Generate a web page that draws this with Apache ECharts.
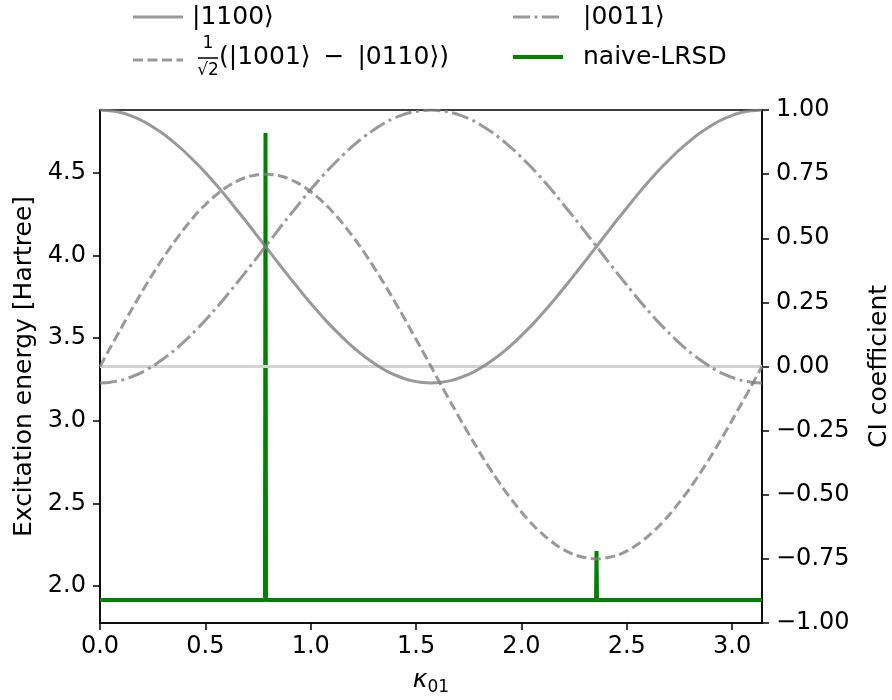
<!DOCTYPE html>
<html>
<head>
<meta charset="utf-8">
<script src="https://cdn.jsdelivr.net/npm/echarts@6/dist/echarts.min.js"></script>
<style>
  html, body { margin: 0; background: #fff; }
  #chart { width: 892px; height: 700px; }
</style>
</head>
<body>
<div id="chart"></div>
<script>
// kappa_01 grid (0 .. pi)
const kappa = [0, 0.0491, 0.0982, 0.1473, 0.1963, 0.2454, 0.2945, 0.3436, 0.3927, 0.4418, 0.4909,
  0.5400, 0.5890, 0.6381, 0.6872, 0.7363, 0.7854, 0.8345, 0.8836, 0.9327, 0.9817, 1.0308,
  1.0799, 1.1290, 1.1781, 1.2272, 1.2763, 1.3254, 1.3744, 1.4235, 1.4726, 1.5217, 1.5708,
  1.6199, 1.6690, 1.7181, 1.7671, 1.8162, 1.8653, 1.9144, 1.9635, 2.0126, 2.0617, 2.1108,
  2.1598, 2.2089, 2.2580, 2.3071, 2.3562, 2.4053, 2.4544, 2.5035, 2.5525, 2.6016, 2.6507,
  2.6998, 2.7489, 2.7980, 2.8471, 2.8962, 2.9452, 2.9943, 3.0434, 3.0925, 3.1416];

// CI coefficients (right axis)
const c1100 = [1.000, 0.997, 0.990, 0.977, 0.960, 0.937, 0.910, 0.879, 0.844, 0.805, 0.764,
  0.719, 0.672, 0.622, 0.572, 0.520, 0.468, 0.416, 0.364, 0.314, 0.264, 0.217,
  0.172, 0.131, 0.092, 0.057, 0.026, -0.001, -0.024, -0.041, -0.054, -0.061, -0.064,
  -0.061, -0.054, -0.041, -0.024, -0.001, 0.026, 0.057, 0.092, 0.131, 0.172, 0.217,
  0.264, 0.314, 0.364, 0.416, 0.468, 0.520, 0.572, 0.622, 0.672, 0.719, 0.764,
  0.805, 0.844, 0.879, 0.910, 0.937, 0.960, 0.977, 0.990, 0.997, 1.000];
const c0011 = [-0.064, -0.061, -0.054, -0.041, -0.024, -0.001, 0.026, 0.057, 0.092, 0.131, 0.172,
  0.217, 0.264, 0.314, 0.364, 0.416, 0.468, 0.520, 0.572, 0.622, 0.672, 0.719,
  0.764, 0.805, 0.844, 0.879, 0.910, 0.937, 0.960, 0.977, 0.990, 0.997, 1.000,
  0.997, 0.990, 0.977, 0.960, 0.937, 0.910, 0.879, 0.844, 0.805, 0.764, 0.719,
  0.672, 0.622, 0.572, 0.520, 0.468, 0.416, 0.364, 0.314, 0.264, 0.217, 0.172,
  0.131, 0.092, 0.057, 0.026, -0.001, -0.024, -0.041, -0.054, -0.061, -0.064];
const cSinglet = [0, 0.074, 0.146, 0.218, 0.287, 0.354, 0.417, 0.476, 0.530, 0.580, 0.624,
  0.661, 0.693, 0.718, 0.736, 0.746, 0.750, 0.746, 0.736, 0.718, 0.693, 0.661,
  0.624, 0.580, 0.530, 0.476, 0.417, 0.354, 0.287, 0.218, 0.146, 0.074, 0,
  -0.074, -0.146, -0.218, -0.287, -0.354, -0.417, -0.476, -0.530, -0.580, -0.624, -0.661,
  -0.693, -0.718, -0.736, -0.746, -0.750, -0.746, -0.736, -0.718, -0.693, -0.661, -0.624,
  -0.580, -0.530, -0.476, -0.417, -0.354, -0.287, -0.218, -0.146, -0.074, 0];

// naive-LRSD excitation energy (left axis)
const naiveKappa = [0, 0.7830, 0.7854, 0.7878, 2.3540, 2.3562, 2.3585, 3.1416];
const naiveEnergy = [1.915, 1.915, 4.742, 1.915, 1.915, 2.212, 1.915, 1.915];

const xTicks = [0, 0.5, 1.0, 1.5, 2.0, 2.5, 3.0];
const energyTicks = [2.0, 2.5, 3.0, 3.5, 4.0, 4.5];

const FONT = 'DejaVu Sans';
const gray = 'rgba(128,128,128,0.8)';
const dashed = [10, 4.5];
const dashDot = [17, 4.5, 3, 4.5];

function pairs(xs, ys) {
  return xs.map((x, i) => [x, ys[i]]);
}

function legendLine(x, y, dash, color, width) {
  return {
    type: 'line',
    shape: { x1: x, y1: y, x2: x + 50, y2: y },
    style: { stroke: color, lineWidth: width, lineDash: dash }
  };
}

function legendText(x, y, text, size, align) {
  return {
    type: 'text', x: x, y: y,
    style: { text: text, fill: '#000', font: size + 'px "' + FONT + '"', align: align || 'left', verticalAlign: 'middle' }
  };
}

const axisLineStyle = { color: '#000', width: 1.5 };

const chart = echarts.init(document.getElementById('chart'));
chart.setOption({
  animation: false,
  backgroundColor: '#fff',
  textStyle: { fontFamily: FONT },
  grid: {
    left: 100, right: 130, top: 110, bottom: 77, outerBoundsMode: 'none',
    show: true, borderColor: '#000', borderWidth: 1.5
  },
  xAxis: {
    type: 'value', min: 0, max: 3.14159,
    name: '{k|κ}{s|01}', nameLocation: 'middle', nameGap: 42,
    nameTextStyle: { rich: { k: { fontSize: 25, fontStyle: 'italic', fontFamily: FONT }, s: { fontSize: 17, fontFamily: FONT, padding: [14, 0, 0, 0] } } },
    axisLine: { onZero: false, lineStyle: axisLineStyle },
    axisTick: { length: 7, lineStyle: axisLineStyle, customValues: xTicks },
    axisLabel: { customValues: xTicks, fontSize: 24, color: '#000', margin: 12, formatter: v => v.toFixed(1) },
    splitLine: { show: false }
  },
  yAxis: [
    {
      type: 'value', min: 1.776, max: 4.881, position: 'left',
      name: 'Excitation energy [Hartree]', nameLocation: 'middle', nameGap: 54,
      nameTextStyle: { fontSize: 25, color: '#000' },
      axisLine: { show: true, onZero: false, lineStyle: axisLineStyle },
      axisTick: { show: true, length: 7, lineStyle: axisLineStyle, customValues: energyTicks },
      axisLabel: { customValues: energyTicks, fontSize: 24, color: '#000', margin: 14, formatter: v => v.toFixed(1) },
      splitLine: { show: false }
    },
    {
      type: 'value', min: -1, max: 1, interval: 0.25, position: 'right',
      name: 'CI coefficient', nameLocation: 'middle', nameGap: 105,
      nameTextStyle: { fontSize: 25, color: '#000' },
      axisLine: { show: true, onZero: false, lineStyle: axisLineStyle },
      axisTick: { show: true, length: 7, lineStyle: axisLineStyle },
      axisLabel: { fontSize: 24, color: '#000', margin: 14, formatter: v => (v < 0 ? '\u2212' : '') + Math.abs(v).toFixed(2) },
      splitLine: { show: false }
    }
  ],
  series: [
    {
      name: 'naive-LRSD', type: 'line', yAxisIndex: 0, showSymbol: false,
      data: pairs(naiveKappa, naiveEnergy),
      lineStyle: { color: '#008000', width: 4 }
    },
    {
      name: 'zero', type: 'line', yAxisIndex: 1, showSymbol: false,
      data: [[0, 0], [3.14159, 0]],
      lineStyle: { color: '#d3d3d3', width: 3 }
    },
    {
      name: '|1100>', type: 'line', yAxisIndex: 1, showSymbol: false, smooth: 0.3,
      data: pairs(kappa, c1100),
      lineStyle: { color: gray, width: 3 }
    },
    {
      name: '|0011>', type: 'line', yAxisIndex: 1, showSymbol: false, smooth: 0.3,
      data: pairs(kappa, c0011),
      lineStyle: { color: gray, width: 3, type: dashDot }
    },
    {
      name: 'singlet', type: 'line', yAxisIndex: 1, showSymbol: false, smooth: 0.3,
      data: pairs(kappa, cSinglet),
      lineStyle: { color: gray, width: 3, type: dashed }
    }
  ],
  graphic: [
    legendLine(133, 17, null, gray, 3),
    legendText(192, 17, '|1100\u27E9', 25),
    legendLine(133, 60, dashed, gray, 3),
    legendText(208, 44, '1', 17, 'center'),
    { type: 'line', shape: { x1: 198, y1: 58, x2: 218, y2: 58 }, style: { stroke: '#000', lineWidth: 1.5 } },
    legendText(208, 71, '\u221A2', 17, 'center'),
    legendText(219, 57, '(|1001\u27E9 \u2009\u2212\u2009 |0110\u27E9)', 25),
    legendLine(513, 17, dashDot, gray, 3),
    legendText(583, 17, '|0011\u27E9', 25),
    legendLine(513, 57, null, '#008000', 4),
    legendText(583, 57, 'naive-LRSD', 25)
  ]
});
</script>
</body>
</html>
